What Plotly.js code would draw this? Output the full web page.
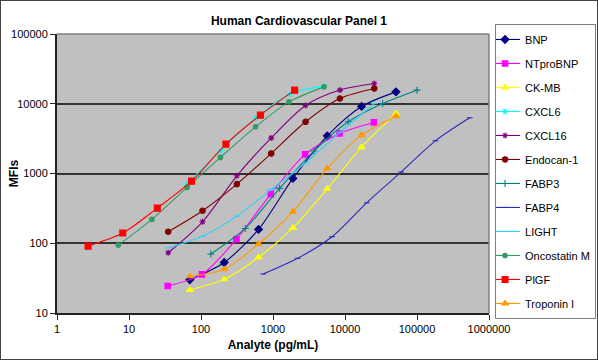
<!DOCTYPE html>
<html>
<head>
<meta charset="utf-8">
<script src="https://cdn.plot.ly/plotly-3.0.1.min.js"></script>
<style>
html,body{margin:0;padding:0;background:#fff;}
#chart{width:598px;height:360px;box-sizing:border-box;border:1px solid #444;}
</style>
</head>
<body>
<div id="chart"></div>
<script>
// Series names (legend order)
const seriesNames = ["BNP","NTproBNP","CK-MB","CXCL6","CXCL16","Endocan-1","FABP3","FABP4","LIGHT","Oncostatin M","PlGF","Troponin I"];

// Analyte concentrations (pg/mL) and MFIs per series
const bnpX = [70, 210, 630, 1890, 5670, 17000, 51000];
const bnpY = [30, 53, 158, 850, 3470, 9150, 14800];

const ntprobnpX = [34.5, 103, 310, 930, 2800, 8400, 25200];
const ntprobnpY = [24.4, 35.8, 114, 507, 1880, 3760, 5400];

const ckmbX = [70, 210, 630, 1890, 5670, 17000, 51000];
const ckmbY = [21.4, 30.4, 62.8, 166, 604, 2390, 7260];

const cxcl6X = [64, 190, 570, 1700, 5100];
const cxcl6Y = [705, 2160, 6220, 13700, 17900];

const cxcl16X = [35, 105, 315, 945, 2835, 8500, 25500];
const cxcl16Y = [73, 203, 927, 3240, 9460, 15700, 19500];

const endocanX = [35, 105, 315, 945, 2835, 8500, 25500];
const endocanY = [146, 292, 705, 1940, 5510, 11900, 16550];

const fabp3X = [137, 412, 1235, 3700, 11100, 33300, 100000];
const fabp3Y = [70, 163, 612, 2100, 5510, 10090, 15660];

const fabp4X = [730, 2200, 6600, 20000, 60000, 180000, 540000];
const fabp4Y = [36.2, 60.8, 124, 380, 1047, 2940, 6280];

const lightX = [35, 105, 316, 950, 2850, 8550, 25650];
const lightY = [86, 126, 245, 592, 1422, 3920, 10090];

const oncostatinX = [7.1, 20.8, 64, 186, 573, 1665, 5115];
const oncostatinY = [94, 220, 632, 1702, 4670, 10640, 17460];

const plgfX = [2.7, 8.2, 24.7, 74, 222, 667, 2000];
const plgfY = [91, 140, 319, 778, 2636, 6870, 15660];

const troponinX = [70, 210, 630, 1890, 5670, 17000, 51000];
const troponinY = [33.6, 42.3, 97.5, 283, 1183, 3550, 6640];

const xTickVals = [1, 10, 100, 1000, 10000, 100000, 1000000];
const xTickText = ["1","10","100","1000","10000","100000","1000000"];
const yTickVals = [10, 100, 1000, 10000, 100000];
const yTickText = ["10","100","1000","10000","100000"];

const xs = [bnpX, ntprobnpX, ckmbX, cxcl6X, cxcl16X, endocanX, fabp3X, fabp4X, lightX, oncostatinX, plgfX, troponinX];
const ys = [bnpY, ntprobnpY, ckmbY, cxcl6Y, cxcl16Y, endocanY, fabp3Y, fabp4Y, lightY, oncostatinY, plgfY, troponinY];

const styles = [
  {color:"#000080", symbol:"diamond", size:6},
  {color:"#FF00FF", symbol:"square", size:5.5},
  {color:"#FFFF00", symbol:"triangle-up", size:6},
  {color:"#00FFFF", symbol:"asterisk-open", size:5},
  {color:"#800080", symbol:"asterisk-open", size:5},
  {color:"#800000", symbol:"circle", size:5.5},
  {color:"#008080", symbol:"cross-thin-open", size:5},
  {color:"#2A2ABF", symbol:"line-ew-open", size:4},
  {color:"#33CCFF", symbol:"line-ew-open", size:5},
  {color:"#339966", symbol:"circle", size:4.5},
  {color:"#FF0000", symbol:"square", size:6},
  {color:"#FF9900", symbol:"triangle-up", size:6}
];

const traces = seriesNames.map((name, i) => ({
  type: "scatter",
  mode: "lines+markers",
  name: name,
  legendgroup: "g" + i,
  x: xs[i],
  y: ys[i],
  line: {color: styles[i].color, width: 1.1, shape: "spline", smoothing: 0.8},
  marker: {color: styles[i].color, symbol: styles[i].symbol, size: styles[i].size,
           line: {color: styles[i].color, width: 1.1}}
}));

const font = "Liberation Sans, Arial, sans-serif";

const layout = {
  width: 596,
  height: 358,
  margin: {l: 56, r: 108, t: 33, b: 46, autoexpand: false},
  paper_bgcolor: "#ffffff",
  plot_bgcolor: "#c0c0c0",
  font: {family: font, size: 11, color: "#000"},
  title: {text: "Human Cardiovascular Panel 1", x: 0.5, xref: "container", y: 0.945, yref: "container", yanchor: "middle",
          font: {family: font, size: 12, weight: "bold", color: "#000"}},
  xaxis: {
    type: "log", range: [0, 6],
    tickvals: xTickVals, ticktext: xTickText,
    ticks: "outside", ticklen: 5, tickcolor: "#222", tickwidth: 1,
    showgrid: false, zeroline: false,
    showline: true, linecolor: "#222", linewidth: 2,
    tickfont: {family: font, size: 11, color: "#000"},
    title: {text: "Analyte (pg/mL)", font: {family: font, size: 12, weight: "bold", color: "#000"}, standoff: 6}
  },
  yaxis: {
    type: "log", range: [1, 5],
    tickvals: yTickVals, ticktext: yTickText,
    ticks: "outside", ticklen: 5, tickcolor: "#222", tickwidth: 1,
    showgrid: true, gridcolor: "#333", gridwidth: 2,
    zeroline: false,
    showline: true, linecolor: "#222", linewidth: 2,
    tickfont: {family: font, size: 11, color: "#000"},
    title: {text: "MFIs", font: {family: font, size: 12, weight: "bold", color: "#000"}}
  },
  showlegend: true,
  legend: {
    x: 1.014, xanchor: "left", y: 1.036, yanchor: "top",
    bgcolor: "#ffffff", bordercolor: "#808080", borderwidth: 1,
    font: {family: font, size: 11, color: "#000"},
    tracegroupgap: 5, traceorder: "grouped", itemwidth: 30,
    indentation: -11,
    maxheight: 330
  },
  shapes: [
    {type: "line", xref: "paper", yref: "paper", x0: 0, x1: 1, y0: 1, y1: 1, line: {color: "#808080", width: 1.5}},
    {type: "line", xref: "paper", yref: "paper", x0: 1, x1: 1, y0: 0, y1: 1, line: {color: "#808080", width: 1.5}}
  ]
};

Plotly.newPlot("chart", traces, layout, {displayModeBar: false, staticPlot: true});
</script>
</body>
</html>
